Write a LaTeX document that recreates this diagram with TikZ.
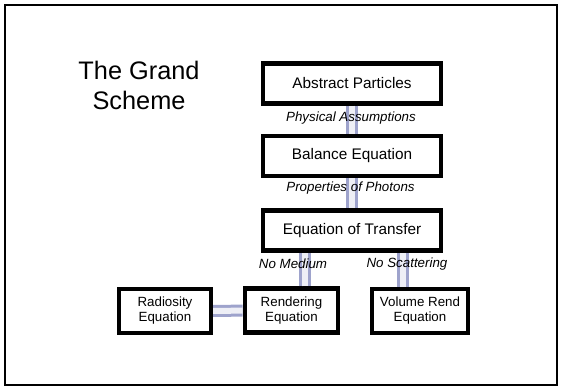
\documentclass[tikz,border=0pt]{standalone}
\usepackage{fontspec}
\setmainfont{Liberation Sans}
\definecolor{linkblue}{RGB}{158,163,204}
\definecolor{linkpale}{RGB}{238,239,246}
\tikzset{bigbox/.style={rectangle,draw,line width=3.2pt,fill=white,minimum width=133.5pt,minimum height=30pt,font=\fontsize{11.5}{13}\selectfont},
  smallbox/.style={rectangle,draw,line width=3.2pt,fill=white,minimum height=33pt,align=center,font=\fontsize{10}{11.3}\selectfont},
  link/.style={draw=linkblue,line width=2.25pt,double=linkpale,double distance=4.5pt},
  lbl/.style={font=\fontsize{10}{12}\selectfont\itshape}}

\begin{document}
\begin{tikzpicture}[x=0.75pt,y=-0.75pt]
    \useasboundingbox (0,0) rectangle (563,387);
    \draw[line width=1.5pt] (5,5) rectangle (557,385);
    \node[align=center,font=\fontsize{19}{22.5}\selectfont] (title) at (139,85) {The Grand\\Scheme};
    \node[bigbox] (part) at (352,83.5) {Abstract Particles};
    \node[bigbox] (bal) at (352,156) {Balance Equation};
    \node[bigbox] (eqt) at (352,230.5) {Equation of Transfer};
    \node[smallbox,minimum width=69pt] (rad) at (165,311) {Radiosity\\Equation};
    \node[smallbox,minimum width=70pt] (rend) at (291.5,310.5) {Rendering\\Equation};
    \node[smallbox,minimum width=72pt] (vol) at (420,311) {Volume Rend\\Equation};
    \draw[link] (part) -- (bal);
    \draw[link] (bal) -- (eqt);
    \draw[link] ([xshift=9.75pt]rend.north) -- ([xshift=9.75pt]rend.north |- eqt.south);
    \draw[link] ([xshift=-13pt]vol.north) -- ([xshift=-13pt]vol.north |- eqt.south);
    \draw[link] (rad) -- (rend);
    \node[lbl] (physical) at (351,118) {Physical Assumptions};
    \node[lbl] (photons) at (350.5,188) {Properties of Photons};
    \node[lbl] (medium) at (293,264) {No Medium};
    \node[lbl] (scatter) at (407,264) {No Scattering};
  \end{tikzpicture}
\end{document}
